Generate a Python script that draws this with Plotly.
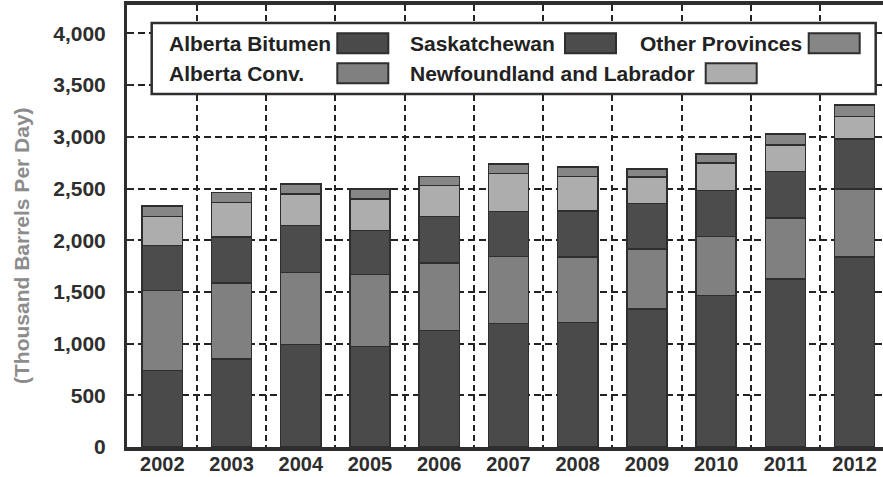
import plotly.graph_objects as go

# ---------------- data ----------------
years = ['2002', '2003', '2004', '2005', '2006', '2007', '2008', '2009', '2010', '2011', '2012']
alberta_bitumen = [739, 852, 990, 974, 1126, 1193, 1206, 1335, 1467, 1625, 1837]
alberta_conv = [776, 734, 699, 693, 653, 651, 631, 580, 570, 589, 657]
saskatchewan = [432, 445, 451, 428, 451, 435, 448, 438, 444, 451, 483]
newfoundland = [283, 335, 309, 303, 297, 364, 332, 257, 265, 258, 219]
other_provinces = [103, 96, 94, 96, 90, 96, 90, 81, 90, 103, 113]

series_names = ['Alberta Bitumen', 'Alberta Conv.', 'Saskatchewan',
                'Newfoundland and Labrador', 'Other Provinces']
series_values = [alberta_bitumen, alberta_conv, saskatchewan, newfoundland, other_provinces]
series_colors = ['#4a4a4a', '#808080', '#4c4c4c', '#adadad', '#868686']

y_tickvals = [0, 500, 1000, 1500, 2000, 2500, 3000, 3500, 4000]
y_ticktext = ['0', '500', '1,000', '1,500', '2,000', '2,500', '3,000', '3,500', '4,000']
y_title = '(Thousand Barrels Per Day)'

FONT = 'Liberation Sans, Arial, sans-serif'
DARK = '#2e2e2e'

W, H = 883, 477
PL, PR, PT, PB = 127, 883, 5, 447

fig = go.Figure()
for name, vals, col in zip(series_names, series_values, series_colors):
    fig.add_trace(go.Bar(
        x=years, y=vals, name=name,
        marker=dict(color=col, line=dict(color=DARK, width=1.5)),
        showlegend=False,
    ))

fig.update_layout(
    width=W, height=H,
    barmode='stack', bargap=0.42,
    paper_bgcolor='white', plot_bgcolor='white',
    margin=dict(l=PL, r=W - PR, t=PT, b=H - PB, autoexpand=False),
    font=dict(family=FONT, color=DARK),
    showlegend=False,
)

fig.update_xaxes(
    type='category', range=[-0.51, 10.41],
    showline=True, linecolor=DARK, linewidth=4, mirror=True,
    ticks='', tickson='boundaries',
    ticklabelstandoff=-4,
    showgrid=True, gridcolor='#222222', gridwidth=2, griddash='6px,4px',
    tickfont=dict(family=FONT, size=20, color=DARK),
    zeroline=False,
)
fig.update_yaxes(
    range=[0, 4275],
    tickmode='array', tickvals=y_tickvals,
    showline=True, linecolor=DARK, linewidth=3,
    ticks='inside', ticklen=5, tickwidth=1.5, tickcolor=DARK,
    ticklabelstandoff=14,
    showgrid=True, gridcolor='#222222', gridwidth=2, griddash='7px,4px',
    tickfont=dict(family=FONT, size=21, color=DARK),
    zeroline=False,
)

def px(xp):
    return (xp - PL) / (PR - PL)

def py(yp):
    return (PB - yp) / (PB - PT)

shapes = []
annotations = []

# legend box
shapes.append(dict(type='rect', xref='paper', yref='paper',
                   x0=px(151.7), x1=px(875.7), y0=py(94), y1=py(23),
                   fillcolor='white', line=dict(color=DARK, width=2.5), layer='above'))

legend_layout = {
    'Alberta Bitumen': (166.7, 337.3, 43.3),
    'Saskatchewan': (408.0, 565.0, 43.3),
    'Other Provinces': (638.0, 808.7, 43.3),
    'Alberta Conv.': (166.7, 337.3, 73.3),
    'Newfoundland and Labrador': (408.0, 705.7, 73.3),
}
for name, col in zip(series_names, series_colors):
    tx, sx, ry = legend_layout[name]
    annotations.append(dict(xref='paper', yref='paper', x=px(tx), y=py(ry),
                            xanchor='left', yanchor='middle', showarrow=False,
                            text='<b>%s</b>' % name,
                            font=dict(family=FONT, size=21, color='#222222')))
    shapes.append(dict(type='rect', xref='paper', yref='paper',
                       x0=px(sx), x1=px(sx + 51), y0=py(ry + 10), y1=py(ry - 10),
                       fillcolor=col, line=dict(color=DARK, width=2), layer='above'))

# y-axis title
annotations.append(dict(xref='paper', yref='paper', x=px(21), y=py(246),
                        xanchor='center', yanchor='middle', showarrow=False,
                        textangle=-90, text='<b>%s</b>' % y_title,
                        font=dict(family=FONT, size=21, color='#8c8c8c')))

fig.update_layout(shapes=shapes, annotations=annotations)

fig.update_xaxes(ticktext=['<b>%s</b>' % y for y in years], tickvals=years)
fig.update_yaxes(ticktext=['<b>%s</b>' % t for t in y_ticktext])

fig.write_html('out.html',
               config={'displayModeBar': False, 'staticPlot': True},
               post_script="document.body.style.margin='0';document.body.style.overflow='hidden';")
